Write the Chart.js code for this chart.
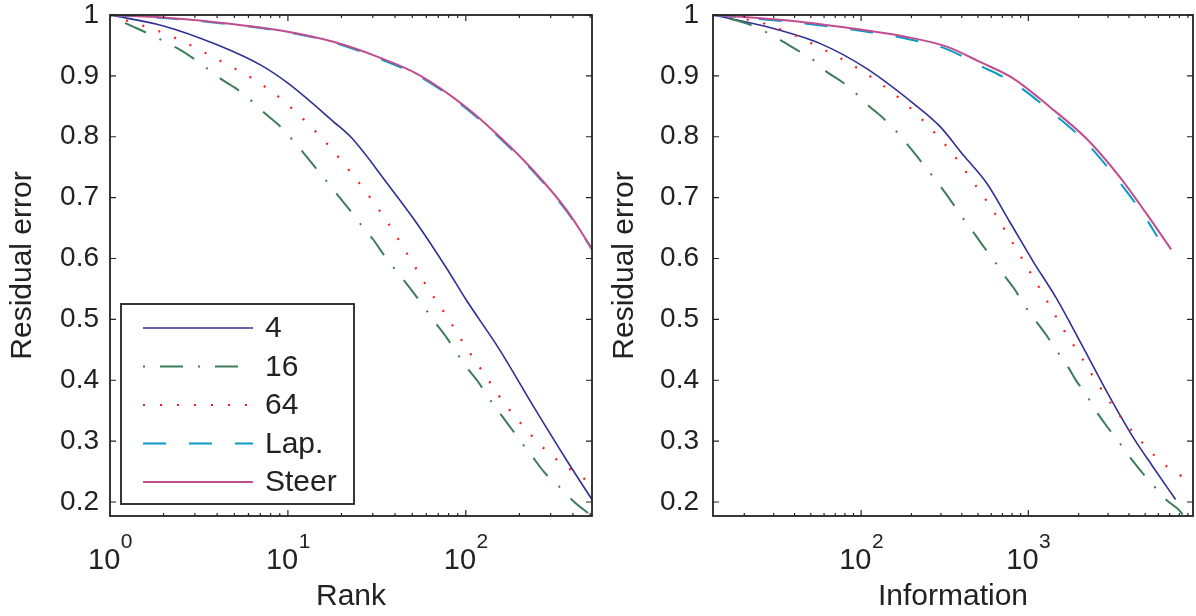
<!DOCTYPE html>
<html>
<head>
<meta charset="utf-8">
<script src="https://cdn.jsdelivr.net/npm/chart.js@4.4.1/dist/chart.umd.min.js"></script>
<style>
  html, body { margin: 0; padding: 0; background: #fff; }
  #wrap { position: relative; width: 1196px; height: 616px; }
  .panel { position: absolute; top: 0; width: 598px; height: 616px; }
</style>
</head>
<body>
<div id="wrap">
  <div class="panel" style="left:0"><canvas id="rankChart"></canvas></div>
  <div class="panel" style="left:598px"><canvas id="infoChart"></canvas></div>
</div>
<script>
// series legend / styling
const seriesNames = ['4', '16', '64', 'Lap.', 'Steer'];
const seriesColors = ['#2d3092', '#3e7d5a', '#ff1a1a', '#0b9ac8', '#c04e8e'];
const seriesWidths = [1.6, 2, 2.2, 2, 2];
const seriesDashes = [[], [2, 15, 23, 15], [2, 15], [23, 23], []];

const yTicks = [0.2, 0.3, 0.4, 0.5, 0.6, 0.7, 0.8, 0.9, 1];

// left panel: residual error vs rank
const rank4 = [1, 2, 4, 7, 10, 18, 23, 36, 53, 78, 100, 155, 240, 368, 512];
const err4Rank = [1, 0.982, 0.951, 0.918, 0.888, 0.825, 0.797, 0.724, 0.658, 0.584, 0.533, 0.450, 0.357, 0.269, 0.204];
const rank16 = [1, 1.24, 1.6, 2.4, 3, 4.2, 5.3, 6.3, 7.4, 9.2, 10.6, 12.2, 14.5, 16.7, 19.2, 22.8, 26, 30, 35, 43, 51, 58, 66, 78, 88, 100, 117, 133, 158, 184, 209, 239, 272, 316, 349, 397, 486, 512];
const err16Rank = [1, 0.986, 0.971, 0.945, 0.927, 0.895, 0.876, 0.858, 0.839, 0.815, 0.795, 0.774, 0.747, 0.725, 0.703, 0.676, 0.654, 0.632, 0.604, 0.571, 0.543, 0.521, 0.498, 0.470, 0.447, 0.423, 0.398, 0.373, 0.343, 0.317, 0.295, 0.273, 0.251, 0.231, 0.221, 0.203, 0.182, 0.177];
const rank64 = [1, 1.24, 1.9, 2.9, 4.2, 6.3, 9, 12.5, 17, 22.5, 29.5, 38, 49, 62, 79, 100, 128, 163, 214, 284, 360, 483, 512];
const err64Rank = [1, 0.991, 0.973, 0.949, 0.924, 0.896, 0.864, 0.826, 0.785, 0.742, 0.697, 0.651, 0.598, 0.549, 0.503, 0.455, 0.409, 0.364, 0.322, 0.284, 0.260, 0.235, 0.231];
const rankLap = [1, 2, 3.2, 9.8, 18, 31.5, 55, 100, 155, 239, 368, 512];
const errLapRank = [1, 0.995, 0.990, 0.972, 0.955, 0.930, 0.899, 0.847, 0.798, 0.743, 0.678, 0.615];
const rankSteer = [1, 2, 3.2, 9.8, 18, 31.5, 55, 100, 155, 239, 368, 512];
const errSteerRank = [1, 0.996, 0.991, 0.973, 0.956, 0.932, 0.901, 0.849, 0.800, 0.745, 0.680, 0.616];

// right panel: residual error vs information
const info4 = [13, 27, 57, 108, 205, 296, 408, 563, 775, 1070, 1470, 2120, 3060, 4220, 5560, 7600];
const err4Info = [1, 0.981, 0.953, 0.912, 0.855, 0.817, 0.770, 0.724, 0.660, 0.595, 0.535, 0.455, 0.373, 0.307, 0.258, 0.204];
const info16 = [13, 20.7, 27.4, 41, 53, 62, 77, 95, 113, 135, 166, 192, 223, 266, 307, 352, 417, 478, 532, 611, 723, 830, 931, 1120, 1283, 1458, 1727, 1937, 2222, 2551, 2955, 3435, 3940, 4585, 5360, 5820, 6730, 8200, 8400];
const err16Info = [1, 0.986, 0.971, 0.943, 0.924, 0.907, 0.890, 0.869, 0.849, 0.831, 0.806, 0.785, 0.763, 0.736, 0.714, 0.691, 0.662, 0.640, 0.622, 0.600, 0.571, 0.549, 0.526, 0.496, 0.474, 0.451, 0.422, 0.399, 0.376, 0.349, 0.324, 0.301, 0.278, 0.255, 0.233, 0.222, 0.203, 0.183, 0.178];
const info64 = [13, 24, 37, 57, 86, 128, 185, 258, 353, 464, 611, 785, 998, 1265, 1610, 2075, 2520, 3250, 4315, 5110, 5940, 6610, 7720, 9020, 9660];
const err64Info = [1, 0.989, 0.971, 0.946, 0.920, 0.889, 0.854, 0.815, 0.772, 0.727, 0.680, 0.631, 0.583, 0.535, 0.485, 0.438, 0.400, 0.355, 0.312, 0.290, 0.271, 0.260, 0.248, 0.235, 0.231];
const infoLap = [13, 19, 43, 99, 187, 325, 513, 811, 1344, 2224, 3518, 5075, 5900];
const errLapInfo = [1, 0.996, 0.987, 0.974, 0.961, 0.944, 0.917, 0.889, 0.843, 0.790, 0.725, 0.665, 0.636];
const infoSteer = [13, 19, 43, 99, 187, 325, 513, 811, 1344, 2224, 3518, 5075, 7150];
const errSteerInfo = [1, 0.997, 0.989, 0.976, 0.964, 0.948, 0.923, 0.896, 0.849, 0.797, 0.734, 0.674, 0.615];

const FONT = '"Liberation Sans", Arial, Helvetica, sans-serif';
const INK = '#222222';

function pts(xs, ys) {
    return xs.map((x, i) => ({ x: x, y: ys[i] }));
}

function makeDatasets(xsList, ysList) {
    return seriesNames.map((name, i) => ({
        label: name,
        data: pts(xsList[i], ysList[i]),
        borderColor: seriesColors[i],
        backgroundColor: seriesColors[i],
        borderWidth: seriesWidths[i],
        borderDash: seriesDashes[i],
        pointRadius: 0,
        cubicInterpolationMode: 'monotone',
        order: seriesNames.length - i   // Steer ends up on top
    }));
}

function isDecade(v) {
    const e = Math.floor(Math.log10(v) + 1e-9);
    const m = v / Math.pow(10, e);
    return Math.abs(m - 1) < 1e-6;
}

// box, inward ticks and 10^n labels like the matlab figure
const framePlugin = {
    id: 'frame',
    afterDraw(chart) {
        const { ctx, chartArea: a } = chart;
        const x = chart.scales.x, y = chart.scales.y;
        ctx.save();
        ctx.strokeStyle = INK;
        ctx.lineWidth = 1.2;
        ctx.beginPath();
        y.ticks.forEach(t => {
            const py = y.getPixelForValue(t.value);
            ctx.moveTo(a.left, py); ctx.lineTo(a.left + 6, py);
            ctx.moveTo(a.right, py); ctx.lineTo(a.right - 6, py);
        });
        x.ticks.forEach(t => {
            const v = t.value;
            if (v <= x.min || v >= x.max) return;
            const e = Math.floor(Math.log10(v) + 1e-9);
            const m = v / Math.pow(10, e);
            if (Math.abs(m - Math.round(m)) > 1e-6) return;
            const len = Math.round(m) === 1 ? 6 : 3;
            const px = x.getPixelForValue(v);
            ctx.moveTo(px, a.bottom); ctx.lineTo(px, a.bottom - len);
            ctx.moveTo(px, a.top); ctx.lineTo(px, a.top + len);
        });
        ctx.stroke();

        ctx.lineWidth = 1.8;
        ctx.strokeRect(a.left, a.top, a.right - a.left, a.bottom - a.top);

        ctx.fillStyle = INK;
        ctx.textBaseline = 'alphabetic';
        ctx.textAlign = 'left';
        x.ticks.forEach(t => {
            const v = t.value;
            if (v < x.min - 1e-9 || v > x.max || !isDecade(v)) return;
            const exp = String(Math.round(Math.log10(v)));
            const px = x.getPixelForValue(v);
            ctx.font = '29px ' + FONT;
            const w1 = ctx.measureText('10').width;
            ctx.font = '21px ' + FONT;
            const w2 = ctx.measureText(exp).width;
            const x0 = px - (w1 + w2) / 2;
            ctx.font = '29px ' + FONT;
            ctx.fillText('10', x0, a.bottom + 53);
            ctx.font = '21px ' + FONT;
            ctx.fillText(exp, x0 + w1 + 0.5, a.bottom + 32);
        });
        ctx.restore();
    }
};

// boxed legend in the lower left of the rank panel
const legendPlugin = {
    id: 'boxLegend',
    afterDraw(chart) {
        const { ctx, chartArea: a } = chart;
        const left = a.left + 11, bottom = a.bottom - 12;
        const w = 233, h = 200, top = bottom - h;
        ctx.save();
        ctx.fillStyle = '#fff';
        ctx.fillRect(left, top, w, h);
        ctx.strokeStyle = INK;
        ctx.lineWidth = 1.8;
        ctx.strokeRect(left, top, w, h);
        chart.data.datasets.forEach((ds, i) => {
            const yy = top + 24 + i * 38.5;
            ctx.strokeStyle = ds.borderColor;
            ctx.lineWidth = ds.borderWidth;
            ctx.setLineDash(ds.borderDash);
            ctx.beginPath();
            ctx.moveTo(left + 22, yy);
            ctx.lineTo(left + 132, yy);
            ctx.stroke();
            ctx.setLineDash([]);
            ctx.fillStyle = INK;
            ctx.font = '30px ' + FONT;
            ctx.textBaseline = 'middle';
            ctx.fillText(ds.label, left + 144, yy + 1);
        });
        ctx.restore();
    }
};

function makeChart(canvasId, datasets, xMin, xMax, xTitle, yAxisWidth, rightPad, yLabelPad, yTitlePad, withLegend) {
    const ctx = document.getElementById(canvasId).getContext('2d');
    return new Chart(ctx, {
        type: 'line',
        data: { datasets: datasets },
        options: {
            responsive: true,
            maintainAspectRatio: false,
            animation: false,
            events: [],
            layout: { autoPadding: false, padding: { top: 15, right: rightPad, bottom: 0, left: 0 } },
            plugins: { legend: { display: false }, tooltip: { enabled: false } },
            scales: {
                x: {
                    type: 'logarithmic',
                    min: xMin,
                    max: xMax,
                    grid: { display: false, drawTicks: false },
                    border: { display: false },
                    ticks: { display: false, autoSkip: false },
                    title: {
                        display: true, text: xTitle, color: INK,
                        font: { family: FONT, size: 30 },
                        padding: { top: 0, bottom: 1 }
                    },
                    afterFit: s => { s.height = 100; s.paddingLeft = 0; s.paddingRight = 0; }
                },
                y: {
                    type: 'linear',
                    min: 0.177,
                    max: 1,
                    grid: { display: false, drawTicks: false },
                    border: { display: false },
                    afterBuildTicks: s => { s.ticks = yTicks.map(v => ({ value: v })); },
                    ticks: {
                        color: INK,
                        padding: yLabelPad,
                        font: { family: FONT, size: 28 },
                        callback: v => (v === 1 ? '1' : v.toFixed(1))
                    },
                    title: {
                        display: true, text: 'Residual error', color: INK,
                        font: { family: FONT, size: 30 },
                        padding: { top: yTitlePad, bottom: 0 }
                    },
                    afterFit: s => { s.width = yAxisWidth; s.paddingTop = 0; s.paddingBottom = 0; }
                }
            }
        },
        plugins: withLegend ? [framePlugin, legendPlugin] : [framePlugin]
    });
}

makeChart('rankChart',
    makeDatasets([rank4, rank16, rank64, rankLap, rankSteer],
                 [err4Rank, err16Rank, err64Rank, errLapRank, errSteerRank]),
    1, 512, 'Rank', 110, 6, 11, 5, true);

makeChart('infoChart',
    makeDatasets([info4, info16, info64, infoLap, infoSteer],
                 [err4Info, err16Info, err64Info, errLapInfo, errSteerInfo]),
    13, 9660, 'Information', 115, 3, 14, 9, false);
</script>
</body>
</html>
